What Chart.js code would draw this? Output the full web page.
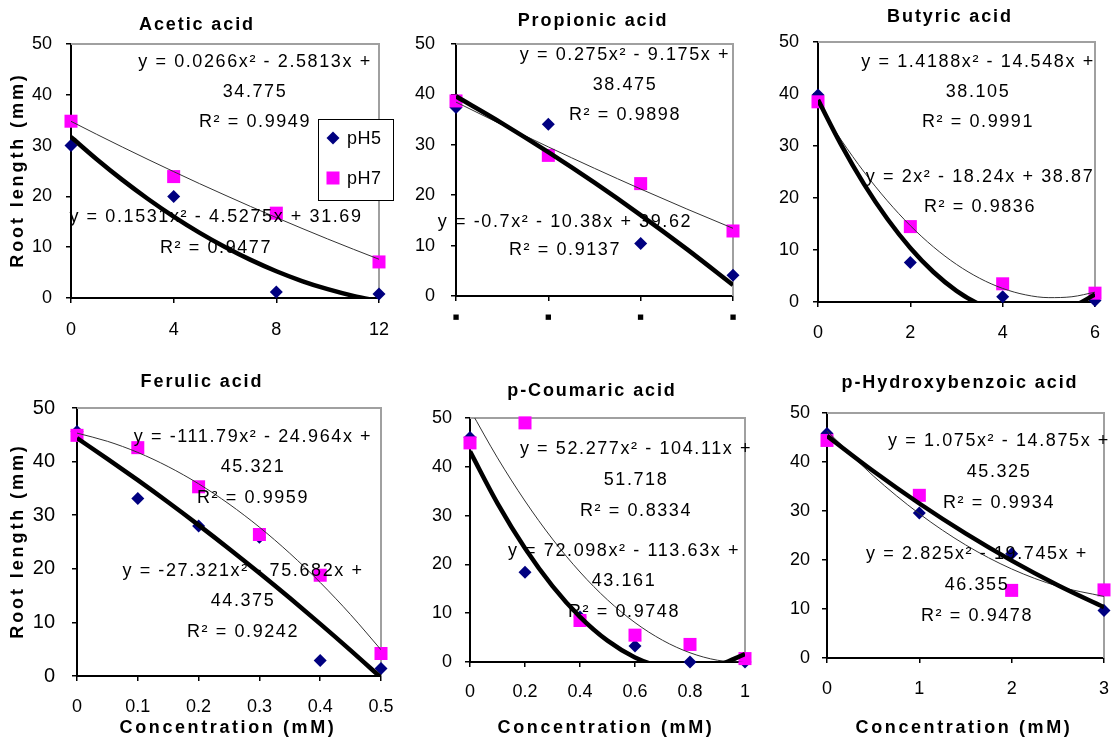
<!DOCTYPE html>
<html><head><meta charset="utf-8">
<script src="https://cdn.jsdelivr.net/npm/chart.js@4.4.0/dist/chart.umd.min.js"></script>
<style>
html,body{margin:0;padding:0;background:#fff;overflow:hidden;width:1112px;height:738px;position:relative;}
canvas{position:absolute;}
</style></head><body>
<canvas id="c1"></canvas><canvas id="c2"></canvas><canvas id="c3"></canvas>
<canvas id="c4"></canvas><canvas id="c5"></canvas><canvas id="c6"></canvas>
<script>
// ---------- DATA ----------
const yTickValues = [0, 10, 20, 30, 40, 50];
const yTickLabels = ['0', '10', '20', '30', '40', '50'];
const seriesNames = ['pH5', 'pH7'];

// Acetic acid
const aceticX = [0, 4, 8, 12];
const aceticPH5 = [30.0, 20.0, 1.2, 0.8];
const aceticPH7 = [34.8, 23.9, 16.7, 7.1];
const aceticTicks = [0, 4, 8, 12];
const aceticTickLabels = ['0', '4', '8', '12'];
const aceticTrendX = [0, 1, 2, 3, 4, 5, 6, 7, 8, 9, 10, 11, 12];
const aceticTrendPH5 = [31.69, 27.32, 23.25, 19.49, 16.03, 12.88, 10.04, 7.50, 5.27, 3.34, 1.73, 0.42, -0.59];
const aceticTrendPH7 = [34.78, 32.22, 29.72, 27.27, 24.88, 22.53, 20.25, 18.01, 15.83, 13.70, 11.62, 9.60, 7.63];
const aceticEqPH7 = ['y = 0.0266x² - 2.5813x +', '34.775', 'R² = 0.9949'];
const aceticEqPH5 = ['y = 0.1531x² - 4.5275x + 31.69', 'R² = 0.9477'];

// Propionic acid
const propionicX = [0, 1, 2, 3];
const propionicPH5 = [37.4, 34.1, 10.4, 4.1];
const propionicPH7 = [38.7, 27.9, 22.3, 12.9];
const propionicTicks = [0, 1, 2, 3];
const propionicTickLabels = ['■', '■', '■', '■'];
const propionicTrendX = [0, 0.5, 1, 1.5, 2, 2.5, 3];
const propionicTrendPH5 = [39.62, 34.26, 28.54, 22.48, 16.06, 9.30, 2.18];
const propionicTrendPH7 = [38.48, 33.96, 29.58, 25.33, 21.23, 17.26, 13.43];
const propionicEqPH7 = ['y = 0.275x² - 9.175x +', '38.475', 'R² = 0.9898'];
const propionicEqPH5 = ['y = -0.7x² - 10.38x + 39.62', 'R² = 0.9137'];

// Butyric acid
const butyricX = [0, 2, 4, 6];
const butyricPH5 = [39.8, 7.6, 1.0, 0.3];
const butyricPH7 = [38.5, 14.5, 3.5, 1.7];
const butyricTicks = [0, 2, 4, 6];
const butyricTickLabels = ['0', '2', '4', '6'];
const butyricTrendX = [0, 0.5, 1, 1.5, 2, 2.5, 3, 3.5, 4, 4.5, 5, 5.5, 6];
const butyricTrendPH5 = [38.87, 30.25, 22.63, 16.01, 10.39, 5.77, 2.15, -0.47, -2.09, -2.71, -2.33, -0.95, 1.43];
const butyricTrendPH7 = [38.11, 31.19, 24.98, 19.48, 14.68, 10.60, 7.23, 4.57, 2.61, 1.37, 0.84, 1.01, 1.89];
const butyricEqPH7 = ['y = 1.4188x² - 14.548x +', '38.105', 'R² = 0.9991'];
const butyricEqPH5 = ['y = 2x² - 18.24x + 38.87', 'R² = 0.9836'];

// Ferulic acid
const ferulicX = [0, 0.1, 0.2, 0.3, 0.4, 0.5];
const ferulicPH5 = [45.6, 33.1, 28.0, 25.9, 2.9, 1.4];
const ferulicPH7 = [44.9, 42.6, 35.3, 26.4, 18.8, 4.2];
const ferulicTicks = [0, 0.1, 0.2, 0.3, 0.4, 0.5];
const ferulicTickLabels = ['0', '0.1', '0.2', '0.3', '0.4', '0.5'];
const ferulicTrendX = [0, 0.05, 0.1, 0.15, 0.2, 0.25, 0.3, 0.35, 0.4, 0.45, 0.5];
const ferulicTrendPH5 = [44.38, 40.52, 36.53, 32.41, 28.15, 23.75, 19.21, 14.54, 9.73, 4.79, -0.30];
const ferulicTrendPH7 = [45.32, 43.79, 41.71, 39.06, 35.86, 32.09, 27.77, 22.89, 17.45, 11.45, 4.89];
const ferulicEqPH7 = ['y = -111.79x² - 24.964x +', '45.321', 'R² = 0.9959'];
const ferulicEqPH5 = ['y = -27.321x² - 75.682x +', '44.375', 'R² = 0.9242'];

// p-Coumaric acid
const coumaricX = [0, 0.2, 0.4, 0.6, 0.8, 1];
const coumaricPH5 = [46.0, 18.4, 9.2, 3.3, 0.0, 0.0];
const coumaricPH7 = [44.9, 49.0, 8.5, 5.5, 3.6, 0.7];
const coumaricTicks = [0, 0.2, 0.4, 0.6, 0.8, 1];
const coumaricTickLabels = ['0', '0.2', '0.4', '0.6', '0.8', '1'];
const coumaricTrendX = [0, 0.1, 0.2, 0.3, 0.4, 0.5, 0.6, 0.7, 0.8, 0.9, 1];
const coumaricTrendPH5 = [43.16, 32.52, 23.32, 15.56, 9.25, 4.37, 0.94, -1.05, -1.60, -0.71, 1.63];
const coumaricTrendPH7 = [51.72, 41.83, 32.99, 25.19, 18.44, 12.73, 8.07, 4.46, 1.89, 0.36, -0.12];
const coumaricEqPH7 = ['y = 52.277x² - 104.11x +', '51.718', 'R² = 0.8334'];
const coumaricEqPH5 = ['y = 72.098x² - 113.63x +', '43.161', 'R² = 0.9748'];

// p-Hydroxybenzoic acid
const hydroxyX = [0, 1, 2, 3];
const hydroxyPH5 = [45.8, 29.6, 21.3, 9.7];
const hydroxyPH7 = [44.4, 33.2, 13.8, 13.9];
const hydroxyTicks = [0, 1, 2, 3];
const hydroxyTickLabels = ['0', '1', '2', '3'];
const hydroxyTrendX = [0, 0.5, 1, 1.5, 2, 2.5, 3];
const hydroxyTrendPH5 = [45.33, 38.16, 31.53, 25.43, 19.88, 14.86, 10.38];
const hydroxyTrendPH7 = [46.36, 37.19, 29.44, 23.09, 18.17, 14.65, 12.56];
const hydroxyEqPH5 = ['y = 1.075x² - 14.875x +', '45.325', 'R² = 0.9934'];
const hydroxyEqPH7 = ['y = 2.825x² - 19.745x +', '46.355', 'R² = 0.9478'];

const yAxisTitle = 'Root length (mm)';
const xAxisTitle = 'Concentration (mM)';

// ---------- LAYOUT ----------
const FONT = "'Liberation Sans', Arial, sans-serif";
const YW = 60, XH = 40;

const panels = [
  { id: 'c1', canvas: [0, 0, 400, 350], area: [71, 44, 379, 298],
    xs: aceticX, p5: aceticPH5, p7: aceticPH7, tx: aceticTrendX, t5: aceticTrendPH5, t7: aceticTrendPH7,
    ticks: aceticTicks, labels: aceticTickLabels, xFont: 18, xFam: FONT, xPad: 16, yFont: 18, yPad: 14,
    title: ['Acetic acid', 197, 25], yTitle: [18, 170], xTitle: null, legend: true,
    eqs: [{ lines: aceticEqPH7, x: 255, y: 62, lh: 30 }, { lines: aceticEqPH5, x: 216, y: 217, lh: 31 }] },
  { id: 'c2', canvas: [380, 0, 375, 350], area: [456, 44, 733, 296],
    xs: propionicX, p5: propionicPH5, p7: propionicPH7, tx: propionicTrendX, t5: propionicTrendPH5, t7: propionicTrendPH7,
    ticks: propionicTicks, labels: propionicTickLabels, xFont: 7, xFam: "'DejaVu Sans', sans-serif", xPad: 12, yFont: 18, yPad: 16,
    title: ['Propionic acid', 593, 21], yTitle: null, xTitle: null,
    eqs: [{ lines: propionicEqPH7, x: 625, y: 55, lh: 30 }, { lines: propionicEqPH5, x: 565, y: 222, lh: 28 }] },
  { id: 'c3', canvas: [745, 0, 367, 350], area: [818, 42, 1095, 302],
    xs: butyricX, p5: butyricPH5, p7: butyricPH7, tx: butyricTrendX, t5: butyricTrendPH5, t7: butyricTrendPH7,
    ticks: butyricTicks, labels: butyricTickLabels, xFont: 18, xFam: FONT, xPad: 15, yFont: 18, yPad: 14,
    title: ['Butyric acid', 950, 17], yTitle: null, xTitle: null,
    eqs: [{ lines: butyricEqPH7, x: 978, y: 62, lh: 30 }, { lines: butyricEqPH5, x: 980, y: 177, lh: 30 }] },
  { id: 'c4', canvas: [0, 355, 395, 383], area: [77, 408, 381, 676],
    xs: ferulicX, p5: ferulicPH5, p7: ferulicPH7, tx: ferulicTrendX, t5: ferulicTrendPH5, t7: ferulicTrendPH7,
    ticks: ferulicTicks, labels: ferulicTickLabels, xFont: 18, xFam: FONT, xPad: 15, yFont: 20, yPad: 17,
    title: ['Ferulic acid', 202, 382], yTitle: [18, 541], xTitle: [228, 728],
    eqs: [{ lines: ferulicEqPH7, x: 253, y: 437, lh: 30.5 }, { lines: ferulicEqPH5, x: 243, y: 571, lh: 30.5 }] },
  { id: 'c5', canvas: [385, 355, 375, 383], area: [470, 418, 745, 662],
    xs: coumaricX, p5: coumaricPH5, p7: coumaricPH7, tx: coumaricTrendX, t5: coumaricTrendPH5, t7: coumaricTrendPH7,
    ticks: coumaricTicks, labels: coumaricTickLabels, xFont: 18, xFam: FONT, xPad: 14, yFont: 18, yPad: 13,
    title: ['p-Coumaric acid', 592, 391], yTitle: null, xTitle: [606, 728],
    eqs: [{ lines: coumaricEqPH7, x: 636, y: 449, lh: 31 }, { lines: coumaricEqPH5, x: 624, y: 551, lh: 30.5 }] },
  { id: 'c6', canvas: [745, 355, 367, 383], area: [827, 413, 1104, 658],
    xs: hydroxyX, p5: hydroxyPH5, p7: hydroxyPH7, tx: hydroxyTrendX, t5: hydroxyTrendPH5, t7: hydroxyTrendPH7,
    ticks: hydroxyTicks, labels: hydroxyTickLabels, xFont: 18, xFam: FONT, xPad: 15, yFont: 18, yPad: 12,
    title: ['p-Hydroxybenzoic acid', 960, 383], yTitle: null, xTitle: [964, 728],
    eqs: [{ lines: hydroxyEqPH5, x: 999, y: 441, lh: 31 }, { lines: hydroxyEqPH7, x: 977, y: 554, lh: 31 }] }
];

const NAVY = '#000080', MAGENTA = '#ff00ff';

function pts(xs, ys) { return xs.map((x, i) => ({ x: x, y: ys[i] })); }

function decoPlugin(p) {
  return {
    id: 'deco',
    beforeDatasetsDraw(chart) {
      const ctx = chart.ctx, a = chart.chartArea;
      ctx.save();
      ctx.strokeStyle = '#a0a0a0'; ctx.lineWidth = 2;
      ctx.beginPath(); ctx.moveTo(a.left, a.top); ctx.lineTo(a.right, a.top); ctx.lineTo(a.right, a.bottom); ctx.stroke();
      ctx.restore();
    },
    afterDraw(chart) {
      const ctx = chart.ctx;
      ctx.save();
      ctx.translate(-p.canvas[0], -p.canvas[1]);
      ctx.fillStyle = '#000'; ctx.textAlign = 'center'; ctx.textBaseline = 'middle';
      // title
      ctx.font = 'bold 18px ' + FONT; ctx.letterSpacing = '1.9px';
      ctx.fillText(p.title[0], p.title[1], p.title[2]);
      // y title
      if (p.yTitle) {
        ctx.save(); ctx.translate(p.yTitle[0], p.yTitle[1]); ctx.rotate(-Math.PI / 2);
        ctx.letterSpacing = '2.9px'; ctx.fillText(yAxisTitle, 0, 0); ctx.restore();
      }
      if (p.xTitle) {
        ctx.letterSpacing = '2.6px'; ctx.fillText(xAxisTitle, p.xTitle[0], p.xTitle[1]);
      }
      // equations
      ctx.font = '18px ' + FONT; ctx.letterSpacing = '1.6px';
      p.eqs.forEach(e => e.lines.forEach((t, i) => ctx.fillText(t, e.x, e.y + i * e.lh)));
      // legend
      if (p.legend) {
        ctx.letterSpacing = '0.5px';
        ctx.fillStyle = '#fff'; ctx.fillRect(318, 119, 75, 81);
        ctx.strokeStyle = '#000'; ctx.lineWidth = 1; ctx.strokeRect(318.5, 119.5, 75, 81);
        ctx.fillStyle = NAVY; ctx.beginPath();
        ctx.moveTo(333 - 6.5, 138); ctx.lineTo(333, 138 - 6.5); ctx.lineTo(333 + 6.5, 138); ctx.lineTo(333, 138 + 6.5); ctx.closePath(); ctx.fill();
        ctx.fillStyle = MAGENTA; ctx.fillRect(326.5, 171.5, 13, 13);
        ctx.fillStyle = '#000'; ctx.textAlign = 'left';
        ctx.fillText(seriesNames[0], 347, 139);
        ctx.fillText(seriesNames[1], 347, 179);
      }
      ctx.restore();
    }
  };
}

panels.forEach(p => {
  const cv = document.getElementById(p.id);
  cv.width = p.canvas[2]; cv.height = p.canvas[3];
  cv.style.left = p.canvas[0] + 'px'; cv.style.top = p.canvas[1] + 'px';
  cv.style.width = p.canvas[2] + 'px'; cv.style.height = p.canvas[3] + 'px';
  const pad = {
    left: p.area[0] - p.canvas[0] - YW,
    top: p.area[1] - p.canvas[1],
    right: p.canvas[0] + p.canvas[2] - p.area[2],
    bottom: p.canvas[1] + p.canvas[3] - p.area[3] - XH
  };
  new Chart(cv, {
    type: 'scatter',
    data: {
      datasets: [
        { label: 'pH5 trend', data: pts(p.tx, p.t5), showLine: true, borderColor: '#000', borderWidth: 4.5,
          pointRadius: 0, cubicInterpolationMode: 'monotone', clip: 0 },
        { label: 'pH7 trend', data: pts(p.tx, p.t7), showLine: true, borderColor: '#333', borderWidth: 1,
          pointRadius: 0, cubicInterpolationMode: 'monotone', clip: 0 },
        { label: 'pH7', data: pts(p.xs, p.p7), pointStyle: 'rect', pointRadius: 9.2,
          backgroundColor: MAGENTA, borderColor: MAGENTA, borderWidth: 0, clip: false },
        { label: 'pH5', data: pts(p.xs, p.p5), pointStyle: 'rectRot', pointRadius: 6.5,
          backgroundColor: NAVY, borderColor: NAVY, borderWidth: 0, clip: false }
      ]
    },
    options: {
      responsive: false, animation: false, devicePixelRatio: 1,
      events: [],
      layout: { padding: pad, autoPadding: false },
      plugins: { legend: { display: false }, title: { display: false }, tooltip: { enabled: false } },
      scales: {
        x: {
          type: 'linear', min: p.ticks[0], max: p.ticks[p.ticks.length - 1],
          afterBuildTicks: s => { s.ticks = p.ticks.map(v => ({ value: v })); },
          afterFit: s => { s.height = XH; s.paddingLeft = 0; s.paddingRight = 0; },
          ticks: { callback: (v, i) => p.labels[i], color: '#000', padding: p.xPad, maxRotation: 0, autoSkip: false,
                   font: { family: p.xFam, size: p.xFont } },
          grid: { drawOnChartArea: false, drawTicks: true, tickLength: 5, color: '#000', lineWidth: 1.5 },
          border: { display: true, color: '#000', width: 2 }
        },
        y: {
          type: 'linear', min: 0, max: 50,
          afterBuildTicks: s => { s.ticks = yTickValues.map(v => ({ value: v })); },
          afterFit: s => { s.width = YW; s.paddingTop = 0; s.paddingBottom = 0; },
          ticks: { callback: (v, i) => yTickLabels[i], color: '#000', padding: p.yPad,
                   font: { family: FONT, size: p.yFont } },
          grid: { drawOnChartArea: false, drawTicks: true, tickLength: 5, color: '#000', lineWidth: 1.5 },
          border: { display: true, color: '#000', width: 2 }
        }
      }
    },
    plugins: [decoPlugin(p)]
  });
});
</script>
</body></html>
